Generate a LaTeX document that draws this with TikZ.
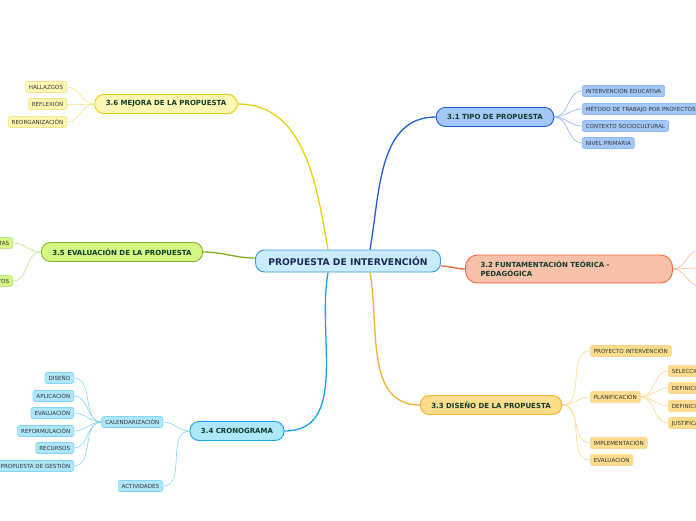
\documentclass[tikz,border=0pt]{standalone}
\usepackage{fontspec}
\setmainfont{DejaVu Sans}
\usetikzlibrary{backgrounds}
\definecolor{rootfill}{HTML}{C8ECFB}
\definecolor{rootline}{HTML}{3C9AD8}
\definecolor{roottext}{HTML}{1B2B55}
\definecolor{textgreen}{HTML}{113D2C}
\definecolor{leaftext}{HTML}{333333}
\definecolor{bluefill}{HTML}{A3C8F7}
\definecolor{blueline}{HTML}{1F5FCF}
\definecolor{bluetwig}{HTML}{8DB8F0}
\definecolor{redfill}{HTML}{F8BFA9}
\definecolor{redline}{HTML}{F06A3C}
\definecolor{redtwig}{HTML}{F8B7A0}
\definecolor{orangefill}{HTML}{FDDC8C}
\definecolor{orangeline}{HTML}{F7B12C}
\definecolor{orangetwig}{HTML}{FCD88E}
\definecolor{cyanfill}{HTML}{AEE6FA}
\definecolor{cyanline}{HTML}{1AA3E8}
\definecolor{cyantwig}{HTML}{86D4F6}
\definecolor{greenfill}{HTML}{D4F784}
\definecolor{greenline}{HTML}{7FB51F}
\definecolor{greentwig}{HTML}{C4E68A}
\definecolor{yellowfill}{HTML}{FFF8B4}
\definecolor{yellowline}{HTML}{ECD10A}
\definecolor{yellowtwig}{HTML}{F6E68A}
\begin{document}
\begin{tikzpicture}[x=1pt, y=-1pt,
    rootbox/.style={draw=rootline, fill=rootfill, rounded corners=9pt, line width=0.9pt,
        minimum width=185pt, minimum height=22pt, font=\fontsize{9.2}{11}\selectfont\bfseries, text=roottext},
    mainbox/.style={draw, rounded corners=9pt, line width=0.9pt, minimum height=19pt,
        inner xsep=11pt, font=\fontsize{7}{8.5}\selectfont\bfseries, text=textgreen},
    leafbox/.style={draw, rounded corners=2pt, line width=0.6pt, minimum height=11pt,
        inner xsep=3.5pt, inner ysep=0pt, font=\fontsize{5.6}{6.5}\selectfont, text=leaftext},
    branch/.style={line width=1.3pt},
    twig/.style={line width=0.6pt}]
    \useasboundingbox (0,0) rectangle (696,520);
    \begin{scope}[on background layer]
        \fill[white] (0,0) rectangle (696,520);
    \end{scope}

    % Centre
    \node[rootbox] (root) at (348,261) {PROPUESTA DE INTERVENCIÓN};

    % 3.1
    \node[mainbox, draw=blueline, fill=bluefill] (tipo) at (495,117) {3.1 TIPO DE PROPUESTA};
    \foreach \i/\y/\txt in {1/91/INTERVENCIÓN EDUCATIVA, 2/109/MÉTODO DE TRABAJO POR PROYECTOS,
                            3/126/CONTEXTO SOCIOCULTURAL, 4/143/NIVEL PRIMARIA} {
        \node[leafbox, draw=bluetwig, fill=bluefill, anchor=west] (tipo-\i) at (582,\y) {\txt};
        \begin{scope}[on background layer]
            \draw[twig, bluetwig] (tipo.east) to[out=0, in=180] (tipo-\i.west);
        \end{scope}
    }

    % 3.2
    \node[mainbox, draw=redline, fill=redfill, rounded corners=12pt, minimum height=28pt,
          text width=177pt, inner xsep=15pt, align=left] (fund) at (569,269)
          {3.2 FUNTAMENTACIÓN TEÓRICA -\\PEDAGÓGICA};
    \foreach \i/\y in {1/250, 2/268, 3/286} {
        \coordinate (fund-\i) at (700,\y);
        \begin{scope}[on background layer]
            \draw[twig, redtwig] (fund.east) to[out=0, in=180] (fund-\i);
        \end{scope}
    }

    % 3.3
    \node[mainbox, draw=orangeline, fill=orangefill] (diseno) at (491,405) {3.3 DISEÑO DE LA PROPUESTA};
    \foreach \i/\y/\txt in {1/351/PROYECTO INTERVENCIÓN, 2/397/PLANIFICACIÓN,
                            3/443/IMPLEMENTACIÓN, 4/460/EVALUACIÓN} {
        \node[leafbox, draw=orangetwig, fill=orangefill, anchor=west] (diseno-\i) at (590,\y) {\txt};
        \begin{scope}[on background layer]
            \draw[twig, orangetwig] (diseno.east) to[out=0, in=180] (diseno-\i.west);
        \end{scope}
    }
    \foreach \i/\y/\txt in {1/371/SELECCIÓN, 2/388/DEFINICIÓN, 3/406/DEFINICIÓN, 4/423/JUSTIFICACIÓN} {
        \node[leafbox, draw=orangetwig, fill=orangefill, anchor=west] (plan-\i) at (668,\y) {\txt};
        \begin{scope}[on background layer]
            \draw[twig, orangetwig] (diseno-2.east) to[out=0, in=180] (plan-\i.west);
        \end{scope}
    }

    % 3.4
    \node[mainbox, draw=cyanline, fill=cyanfill] (crono) at (237,431) {3.4 CRONOGRAMA};
    \node[leafbox, draw=cyantwig, fill=cyanfill, anchor=east] (calend) at (163,422) {CALENDARIZACIÓN};
    \node[leafbox, draw=cyantwig, fill=cyanfill, anchor=east] (activ) at (163,486) {ACTIVIDADES};
    \foreach \i/\y/\txt in {1/378/DISEÑO, 2/396/APLICACIÓN, 3/413/EVALUACIÓN,
                            4/431/REFORMULACIÓN, 5/448/RECURSOS, 6/466/PROPUESTA DE GESTIÓN} {
        \node[leafbox, draw=cyantwig, fill=cyanfill, anchor=east] (calend-\i) at (74,\y) {\txt};
        \begin{scope}[on background layer]
            \draw[twig, cyantwig] (calend.west) to[out=180, in=0] (calend-\i.east);
        \end{scope}
    }
    \begin{scope}[on background layer]
        \draw[twig, cyantwig] (crono.west) to[out=180, in=0] (calend.east);
        \draw[twig, cyantwig] (crono.west) to[out=180, in=0] (activ.east);
    \end{scope}

    % 3.5
    \node[mainbox, draw=greenline, fill=greenfill] (evalua) at (122,252) {3.5 EVALUACIÓN DE LA PROPUESTA};
    \foreach \i/\y/\txt in {1/243/HERRAMIENTAS, 2/281/INSTRUMENTOS} {
        \node[leafbox, draw=greentwig, fill=greenfill, anchor=east] (evalua-\i) at (13,\y) {\txt};
        \begin{scope}[on background layer]
            \draw[twig, greentwig] (evalua.west) to[out=180, in=0] (evalua-\i.east);
        \end{scope}
    }

    % 3.6
    \node[mainbox, draw=yellowline, fill=yellowfill] (mejora) at (166,104) {3.6 MEJORA DE LA PROPUESTA};
    \foreach \i/\y/\txt in {1/87/HALLAZGOS, 2/104/REFLEXIÓN, 3/122/REORGANIZACIÓN} {
        \node[leafbox, draw=yellowtwig, fill=yellowfill, anchor=east] (mejora-\i) at (67,\y) {\txt};
        \begin{scope}[on background layer]
            \draw[twig, yellowtwig] (mejora.west) to[out=180, in=0] (mejora-\i.east);
        \end{scope}
    }

    % Main branches
    \begin{scope}[on background layer]
        \draw[branch, blueline] ([xshift=22pt]root.north) to[out=80, in=180] (tipo.west);
        \draw[branch, redline] ([yshift=-5pt]root.east) to[out=0, in=180] (fund.west);
        \draw[branch, orangeline] ([xshift=22pt]root.south) to[out=-80, in=180] (diseno.west);
        \draw[branch, cyanline] ([xshift=-20pt]root.south) to[out=-100, in=0] (crono.east);
        \draw[branch, greenline] ([yshift=3pt]root.west) to[out=180, in=0] (evalua.east);
        \draw[branch, yellowline] ([xshift=-20pt]root.north) to[out=100, in=0] (mejora.east);
    \end{scope}
\end{tikzpicture}
\end{document}
